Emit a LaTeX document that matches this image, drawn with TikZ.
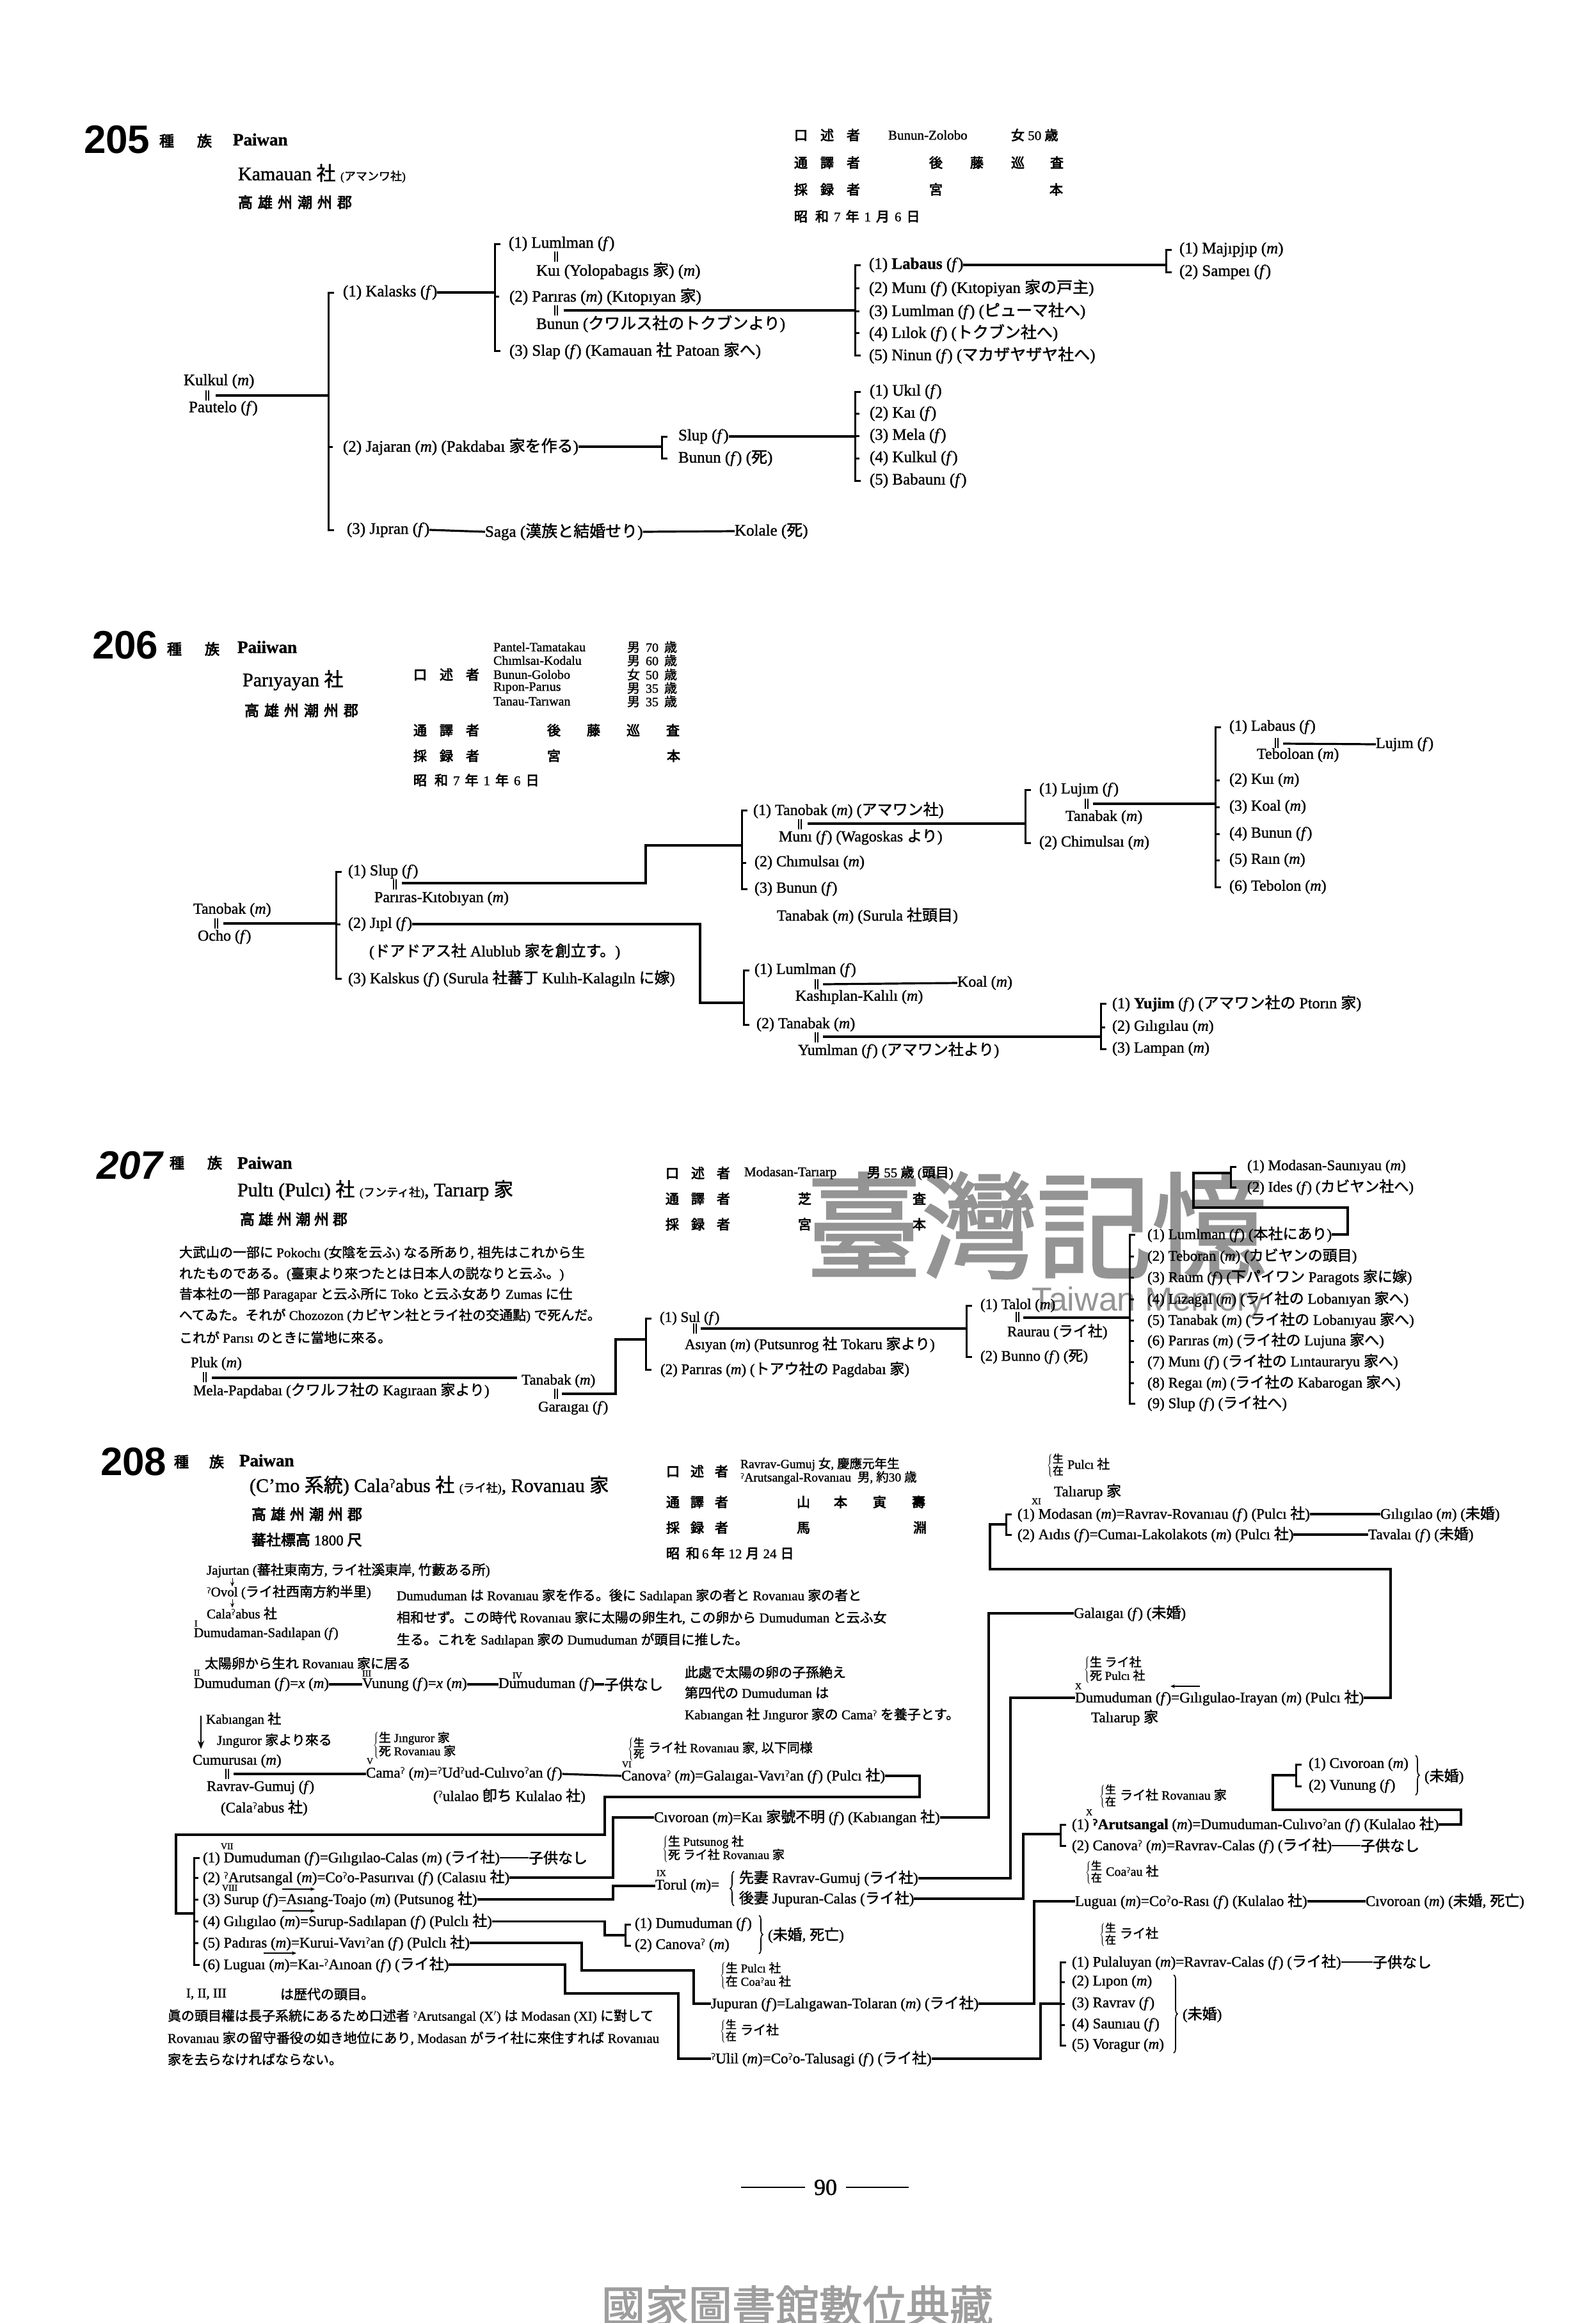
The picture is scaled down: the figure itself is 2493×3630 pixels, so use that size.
\documentclass[tikz,border=0pt]{standalone}
\usepackage{fontspec}
\usepackage{graphicx}
\usetikzlibrary{arrows.meta,decorations.pathreplacing}
\setmainfont{Liberation Serif}[FakeBold=1.3]
\newfontfamily\jpf{Noto Sans CJK JP}[FakeBold=1.8]
\newfontfamily\jpbf{Noto Sans CJK JP}[FakeBold=3.5]
\newfontfamily\dvf{DejaVu Sans}
\newfontfamily\hvf{Liberation Sans}
\XeTeXinterchartokenstate=1
\newXeTeXintercharclass\jpclass
\newcount\jpc
\def\jprange#1#2{\jpc=#1\relax\loop\XeTeXcharclass\jpc=\jpclass\relax\ifnum\jpc<#2\advance\jpc by 1\repeat}
\jprange{"3000}{"30FF}
\jprange{"4E00}{"9FFF}
\jprange{"FF00}{"FFEF}
\XeTeXinterchartoks 0 \jpclass = {\begingroup\jpf}
\XeTeXinterchartoks 4095 \jpclass = {\begingroup\jpf}
\XeTeXinterchartoks \jpclass 0 = {\endgroup}
\XeTeXinterchartoks \jpclass 4095 = {\endgroup}
\newcommand\xf{(\textit{f})}
\newcommand\xm{(\textit{m})}
\newcommand\gs{\raisebox{.45ex}{\scalebox{.62}{\dvf ʔ}}}
\newcommand\sxs[2]{$\left\{\vcenter{\hbox{\fontsize{17}{17}\selectfont\def\arraystretch{0.85}\begin{tabular}{@{}l@{}}#1\\#2\end{tabular}}}\right.$}
\newcommand\sxl[2]{$\left\{\vcenter{\hbox{\fontsize{19}{19}\selectfont\def\arraystretch{0.85}\begin{tabular}{@{}l@{}}#1\\#2\end{tabular}}}\right.$}
\newcommand\bkt[4]{\draw[bk] (#1+9,#2) -- (#1,#2) -- (#1,#3) -- (#1+9,#3); \foreach \yy in {#4}{\draw[bk] (#1,\yy) -- (#1+7,\yy);}}
\begin{document}
\begin{tikzpicture}[x=1pt,y=-1pt,
  ln/.style={line width=3.2pt},
  bk/.style={line width=3pt},
  tx/.style={anchor=west,inner sep=0pt,outer sep=0pt},
  fa/.style={tx,font=\fontsize{25}{27}\selectfont},
  fb/.style={tx,font=\fontsize{24}{26}\selectfont},
  fc/.style={tx,font=\fontsize{23}{25}\selectfont},
  fp/.style={tx,font=\fontsize{21}{24}\selectfont},
  fh/.style={tx,font=\let\jpf\jpbf\fontsize{21}{24}\selectfont},
  fn/.style={tx,font=\fontsize{20}{21}\selectfont},
  fr/.style={tx,font=\fontsize{14}{15}\selectfont},
  big/.style={tx,font=\hvf\bfseries\fontsize{62}{64}\selectfont},
  ttl/.style={tx,font=\fontsize{30}{32}\selectfont},
  pw/.style={tx,font=\bfseries\fontsize{27}{29}\selectfont},
  zk/.style={tx,font=\let\jpf\jpbf\fontsize{23}{25}\selectfont},
  ar/.style={line width=1.2pt,-{Stealth[length=7pt,width=6pt]}},
  br/.style={line width=1.6pt,decorate,decoration={brace,amplitude=6pt}},
  dbar/.pic={\draw[line width=1.3pt] (-2,-8)--(-2,8) (2,-8)--(2,8);}
]
\fill[white] (0,0) rectangle (2493,3630);
\useasboundingbox (0,0) rectangle (2493,3630);
% watermarks
\node[inner sep=0pt,text=black!42,font=\fontsize{180}{180}\selectfont] (wm1) at (1620,1915) {臺灣記憶};
\node[inner sep=0pt,text=black!42,font=\hvf\fontsize{52}{52}\selectfont] (wm2) at (1795,2035) {Taiwan Memory};
\node[inner sep=0pt,text=black!38,font=\fontsize{68}{68}\selectfont] (wm3) at (1246,3603) {國家圖書館數位典藏};

% ================= 205 =================
\node[big] (h205) at (131,218) {205};
\node[zk] (z205) at (249,220) {種\hspace{36pt}族};
\node[pw] (p205) at (364,218) {Paiwan};
\node[ttl] (k205) at (372,271) {Kamauan 社 {\fontsize{18}{20}\selectfont (アマンワ社)}};
\node[zk] (g205) at (372,316) {高\hspace{8pt}雄\hspace{8pt}州\hspace{8pt}潮\hspace{8pt}州\hspace{8pt}郡};
\node[fh] (r5a) at (1241,211) {口\hspace{20pt}述\hspace{20pt}者};
\node[fh] (r5b) at (1388,211) {Bunun-Zolobo};
\node[fh] (r5c) at (1580,211) {女 50 歳};
\node[fh] (r5d) at (1241,254) {通\hspace{20pt}譯\hspace{20pt}者};
\node[fh] (r5e) at (1452,254) {後\hspace{43pt}藤\hspace{43pt}巡\hspace{40pt}査};
\node[fh] (r5f) at (1241,296) {採\hspace{20pt}録\hspace{20pt}者};
\node[fh] (r5g) at (1452,296) {宮\hspace{167pt}本};
\node[fh] (r5h) at (1241,338) {昭\hspace{12pt}和\hspace{8pt}7\hspace{8pt}年\hspace{8pt}1\hspace{8pt}月\hspace{8pt}6\hspace{8pt}日};

\node[fa] (kulkul) at (287,596) {Kulkul \xm};
\pic at (324,618) {dbar};
\node[fa] (pautelo) at (295,638) {Pautelo \xf};
\coordinate (c5a) at (337,618);
\coordinate (b5a) at (513,618);
\draw[ln] (c5a) -- (b5a);
\bkt{513}{457}{828}{698}
\node[fa] (kalasks) at (536,457) {(1) Kalasks \xf};
\draw[ln] (kalasks.east) -- (773,457);
\bkt{773}{381}{548}{463.5}
\node[fa] (lumA) at (795,381) {(1) Lumlman \xf};
\pic at (869,401) {dbar};
\node[fa] (kui) at (838,423) {Kuı (Yolopabagıs 家) \xm};
\node[fa] (parA) at (796,463.5) {(2) Parıras \xm\ (Kıtopıyan 家)};
\pic at (869,485) {dbar};
\draw[ln] (881,485) -- (1336,485);
\node[fa] (bunA) at (838,506) {Bunun (クワルス社のトクブンより)};
\node[fa] (slap) at (796,548) {(3) Slap \xf\ (Kamauan 社 Patoan 家へ)};
\bkt{1336}{414}{555}{450,486,520}
\node[fa] (labaus) at (1358,414) {(1) \textbf{Labaus} \xf};
\draw[ln] (labaus.east) -- (1822,414);
\bkt{1822}{390}{425}{390}
\node[fa] (majip) at (1843,390) {(1) Majıpjıp \xm};
\node[fa] (sampei) at (1843,425) {(2) Sampeı \xf};
\node[fa] (muniA) at (1358,450) {(2) Munı \xf\ (Kıtopiyan 家の戸主)};
\node[fa] (lumB) at (1358,486) {(3) Lumlman \xf\ (ピューマ社へ)};
\node[fa] (lilok) at (1358,520) {(4) Lılok \xf\ (トクブン社へ)};
\node[fa] (ninun) at (1358,555) {(5) Ninun \xf\ (マカザヤザヤ社へ)};
\node[fa] (jajaran) at (536,698) {(2) Jajaran \xm\ (Pakdabaı 家を作る)};
\draw[ln] (jajaran.east) -- (1034,698);
\bkt{1034}{682}{716}{682}
\node[fa] (slupA) at (1060,682) {Slup \xf};
\draw[ln] (slupA.east) -- (1336,682);
\node[fa] (bunB) at (1060,716) {Bunun \xf\ (死)};
\bkt{1336}{612}{751}{646.5,681,716}
\node[fa] (ukil) at (1359,612) {(1) Ukıl \xf};
\node[fa] (kai) at (1359,646.5) {(2) Kaı \xf};
\node[fa] (mela) at (1359,681) {(3) Mela \xf};
\node[fa] (kulkulB) at (1359,716) {(4) Kulkul \xf};
\node[fa] (babauni) at (1359,751) {(5) Babaunı \xf};
\node[fa] (jipran) at (542,828) {(3) Jıpran \xf};
\node[fa] (saga) at (758,831) {Saga (漢族と結婚せり)};
\node[fa] (kolale) at (1148,830) {Kolale (死)};
\draw[ln] (jipran.east) -- (saga.west);
\draw[ln] (saga.east) -- (kolale.west);

% ================= 206 =================
\node[big] (h206) at (144,1008) {206};
\node[zk] (z206) at (261,1014) {種\hspace{36pt}族};
\node[pw] (p206) at (371,1011) {Paiiwan};
\node[ttl] (k206) at (379,1063) {Parıyayan 社};
\node[zk] (g206) at (382,1110) {高\hspace{8pt}雄\hspace{8pt}州\hspace{8pt}潮\hspace{8pt}州\hspace{8pt}郡};
\node[fh] (r6a) at (646,1054) {口\hspace{20pt}述\hspace{20pt}者};
\node[fn] (r6n1) at (771,1011) {Pantel-Tamatakau};
\node[fn] (r6n2) at (771,1032) {Chımlsaı-Kodalu};
\node[fn] (r6n3) at (771,1054) {Bunun-Golobo};
\node[fn] (r6n4) at (771,1075) {Rıpon-Parıus};
\node[fn] (r6n5) at (771,1096) {Tanau-Tarıwan};
\node[fn] (r6m1) at (980,1011) {男\hspace{9pt}70\hspace{9pt}歳};
\node[fn] (r6m2) at (980,1032) {男\hspace{9pt}60\hspace{9pt}歳};
\node[fn] (r6m3) at (980,1054) {女\hspace{9pt}50\hspace{9pt}歳};
\node[fn] (r6m4) at (980,1075) {男\hspace{9pt}35\hspace{9pt}歳};
\node[fn] (r6m5) at (980,1096) {男\hspace{9pt}35\hspace{9pt}歳};
\node[fh] (r6b) at (646,1141) {通\hspace{20pt}譯\hspace{20pt}者};
\node[fh] (r6c) at (855,1141) {後\hspace{41pt}藤\hspace{41pt}巡\hspace{41pt}査};
\node[fh] (r6d) at (646,1181) {採\hspace{20pt}録\hspace{20pt}者};
\node[fh] (r6e) at (855,1181) {宮\hspace{166pt}本};
\node[fh] (r6f) at (646,1219) {昭\hspace{12pt}和\hspace{8pt}7\hspace{8pt}年\hspace{8pt}1\hspace{8pt}年\hspace{8pt}6\hspace{8pt}日};

\node[fb] (tanobak) at (302,1422) {Tanobak \xm};
\pic at (338,1443) {dbar};
\node[fb] (ocho) at (309,1464) {Ocho \xf};
\draw[ln] (349,1443) -- (525,1443);
\bkt{525}{1362}{1529}{1444}
\node[fb] (slupB) at (544,1362) {(1) Slup \xf};
\pic at (617,1382) {dbar};
\node[fb] (parkit) at (585,1404) {Parıras-Kıtobıyan \xm};
\draw[ln] (628,1380) -- (1009,1380) -- (1009,1321) -- (1159,1321);
\node[fb] (jipl) at (544,1444) {(2) Jıpl \xf};
\draw[ln] (jipl.east) -- (1094,1444) -- (1094,1567) -- (1162,1567);
\node[fb] (alub) at (577,1487) {(ドアドアス社 Alublub 家を創立す。)};
\node[fb] (kalskus) at (544,1529) {(3) Kalskus \xf\ (Surula 社蕃丁 Kulıh-Kalagıln に嫁)};
\bkt{1159}{1266}{1389}{1348}
\node[fb] (tanoB) at (1177,1266) {(1) Tanobak \xm\ (アマワン社)};
\pic at (1250,1288) {dbar};
\node[fb] (muniB) at (1217,1308) {Munı \xf\ (Wagoskas より)};
\draw[ln] (1262,1287) -- (1602,1287);
\node[fb] (chimA) at (1179,1348) {(2) Chımulsaı \xm};
\node[fb] (bunC) at (1179,1389) {(3) Bunun \xf};
\node[fb] (tanaS) at (1214,1431) {Tanabak \xm\ (Surula 社頭目)};
\bkt{1602}{1234}{1317}{1234}
\node[fb] (lujimA) at (1624,1234) {(1) Lujım \xf};
\pic at (1698,1256) {dbar};
\node[fb] (tanaB) at (1665,1277) {Tanabak \xm};
\draw[ln] (1708,1256) -- (1899,1256);
\node[fb] (chimB) at (1624,1317) {(2) Chimulsaı \xm};
\bkt{1899}{1136}{1386}{1219,1261,1303,1344}
\node[fb] (labB) at (1921,1136) {(1) Labaus \xf};
\pic at (1995,1161) {dbar};
\node[fb] (lujimB) at (2150,1163) {Lujım \xf};
\draw[ln] (2005,1162) -- (lujimB.west);
\node[fb] (tebA) at (1964,1180) {Teboloan \xm};
\node[fb] (kuiB) at (1921,1219) {(2) Kuı \xm};
\node[fb] (koalA) at (1921,1261) {(3) Koal \xm};
\node[fb] (bunD) at (1921,1303) {(4) Bunun \xf};
\node[fb] (rain) at (1921,1344) {(5) Raın \xm};
\node[fb] (tebB) at (1921,1386) {(6) Tebolon \xm};
\bkt{1162}{1516}{1601}{1516}
\node[fb] (lumC) at (1179,1516) {(1) Lumlman \xf};
\pic at (1276,1538) {dbar};
\node[fb] (koalB) at (1496,1536) {Koal \xm};
\draw[ln] (1286,1538) -- (koalB.west);
\node[fb] (kash) at (1243,1558) {Kashıplan-Kalılı \xm};
\node[fb] (tanaC) at (1182,1601) {(2) Tanabak \xm};
\pic at (1276,1621) {dbar};
\draw[ln] (1286,1620) -- (1720,1620);
\node[fb] (yuml) at (1247,1641) {Yumlman \xf\ (アマワン社より)};
\bkt{1720}{1568}{1639}{1605}
\node[fb] (yujim) at (1738,1568) {(1) \textbf{Yujim} \xf\ (アマワン社の Ptorın 家)};
\node[fb] (gilA) at (1738,1605) {(2) Gılıgılau \xm};
\node[fb] (lampan) at (1738,1639) {(3) Lampan \xm};

% ================= 207 =================
\node[tx,font=\hvf\bfseries\itshape\fontsize{62}{64}\selectfont] (h207) at (151,1821) {207};
\node[zk] (z207) at (265,1817) {種\hspace{36pt}族};
\node[pw] (p207) at (371,1817) {Paiwan};
\node[ttl] (k207) at (371,1860) {Pultı (Pulcı) 社 {\fontsize{18}{20}\selectfont (フンティ社)}, Tarıarp 家};
\node[zk] (g207) at (375,1905) {高\hspace{6pt}雄\hspace{6pt}州\hspace{6pt}潮\hspace{6pt}州\hspace{6pt}郡};
\node[fp] (q1) at (280,1958) {大武山の一部に Pokochı (女陰を云ふ) なる所あり, 祖先はこれから生};
\node[fp] (q2) at (280,1991) {れたものである。(臺東より來つたとは日本人の説なりと云ふ。)};
\node[fp] (q3) at (280,2023) {昔本社の一部 Paragapar と云ふ所に Toko と云ふ女あり Zumas に仕};
\node[fp] (q4) at (280,2056) {へてゐた。それが Chozozon (カビヤン社とライ社の交通點) で死んだ。};
\node[fp] (q5) at (280,2090) {これが Parısı のときに當地に來る。};
\node[fh] (r7a) at (1040,1833) {口\hspace{19pt}述\hspace{19pt}者};
\node[fh] (r7b) at (1163,1833) {Modasan-Tarıarp};
\node[fh] (r7c) at (1355,1833) {男 55 歳 (頭目)};
\node[fh] (r7d) at (1040,1873) {通\hspace{19pt}譯\hspace{19pt}者};
\node[fh] (r7e) at (1247,1873) {芝\hspace{158pt}査};
\node[fh] (r7f) at (1040,1913) {採\hspace{19pt}録\hspace{19pt}者};
\node[fh] (r7g) at (1247,1913) {宮\hspace{158pt}本};

\node[fc] (pluk) at (298,2131) {Pluk \xm};
\pic at (320,2152) {dbar};
\node[fc] (tanab7) at (815,2158) {Tanabak \xm};
\draw[ln] (331,2153) -- (808,2153);
\node[fc] (melapap) at (302,2173) {Mela-Papdabaı (クワルフ社の Kagıraan 家より)};
\pic at (869,2178) {dbar};
\draw[ln] (878,2178) -- (962,2178) -- (962,2093) -- (1009,2093);
\node[fc] (gara) at (841,2200) {Garaıgaı \xf};
\bkt{1009}{2060}{2140}{2060}
\node[fc] (sul) at (1031,2060) {(1) Sul \xf};
\pic at (1086,2076) {dbar};
\draw[ln] (1095,2076) -- (1510,2076);
\node[fc] (asiyan) at (1070,2101) {Asıyan \xm\ (Putsunrog 社 Tokaru 家より)};
\node[fc] (par7) at (1032,2140) {(2) Parıras \xm\ (トアウ社の Pagdabaı 家)};
\bkt{1510}{2040}{2120}{2040}
\node[fc] (talol) at (1532,2040) {(1) Talol \xm};
\pic at (1590,2058) {dbar};
\draw[ln] (1599,2059) -- (1765,2059);
\node[fc] (raurau) at (1574,2081) {Raurau (ライ社)};
\node[fc] (bunno) at (1532,2120) {(2) Bunno \xf\ (死)};
\bkt{1765}{1929}{2193}{1963,1996,2030,2063,2095,2128,2161}
\node[fc] (s71) at (1793,1929) {(1) Lumlman \xf\ (本社にあり)};
\node[fc] (s72) at (1793,1963) {(2) Teboran \xm\ (カビヤンの頭目)};
\node[fc] (s73) at (1793,1996) {(3) Raum \xf\ (下パイワン Paragots 家に嫁)};
\node[fc] (s74) at (1793,2030) {(4) Lızagal \xm\ (ライ社の Lobanıyan 家へ)};
\node[fc] (s75) at (1793,2063) {(5) Tanabak \xm\ (ライ社の Lobanıyau 家へ)};
\node[fc] (s76) at (1793,2095) {(6) Parıras \xm\ (ライ社の Lujuna 家へ)};
\node[fc] (s77) at (1793,2128) {(7) Munı \xf\ (ライ社の Lıntauraryu 家へ)};
\node[fc] (s78) at (1793,2161) {(8) Regaı \xm\ (ライ社の Kabarogan 家へ)};
\node[fc] (s79) at (1793,2193) {(9) Slup \xf\ (ライ社へ)};
\draw[ln] (s71.east) -- (2106,1929) -- (2106,1887) -- (1865,1887) -- (1865,1833) -- (1923,1833);
\bkt{1923}{1823}{1855}{1823}
\node[fc] (modsau) at (1949,1823) {(1) Modasan-Saunıyau \xm};
\node[fc] (ides) at (1949,1855) {(2) Ides \xf\ (カビヤン社へ)};

% ================= 208 =================
\node[big] (h208) at (157,2284) {208};
\node[zk] (z208) at (272,2284) {種\hspace{32pt}族};
\node[pw] (p208) at (374,2282) {Paiwan};
\node[ttl] (k208) at (390,2322) {(C'mo 系統) Cala\gs abus 社 {\fontsize{18}{20}\selectfont (ライ社)}, Rovanıau 家};
\node[zk] (g208) at (393,2366) {高\hspace{7pt}雄\hspace{7pt}州\hspace{7pt}潮\hspace{7pt}州\hspace{7pt}郡};
\node[zk] (e208) at (393,2406) {蕃社標高 1800 尺};
\node[fh] (r8a) at (1041,2299) {口\hspace{17pt}述\hspace{17pt}者};
\node[tx,font=\fontsize{19.5}{20}\selectfont] (r8b) at (1157,2288) {Ravrav-Gumuj 女, 慶應元年生};
\node[tx,font=\fontsize{19.5}{20}\selectfont] (r8c) at (1157,2309) {\gs Arutsangal-Rovanıau\hspace{10pt}男, 約30 歳};
\node[fh] (r8d) at (1041,2347) {通\hspace{17pt}譯\hspace{17pt}者};
\node[fh] (r8e) at (1245,2347) {山\hspace{37pt}本\hspace{40pt}寅\hspace{40pt}壽};
\node[fh] (r8f) at (1041,2387) {採\hspace{17pt}録\hspace{17pt}者};
\node[fh] (r8g) at (1245,2387) {馬\hspace{161pt}淵};
\node[fh] (r8h) at (1041,2427) {昭\hspace{10pt}和\hspace{4pt}6\hspace{4pt}年\hspace{6pt}12\hspace{6pt}月\hspace{6pt}24\hspace{6pt}日};

\node[fp] (jaj8) at (323,2454) {Jajurtan (蕃社東南方, ライ社溪東岸, 竹藪ある所)};
\node[fp] (ovol) at (323,2488) {\gs Ovol (ライ社西南方約半里)};
\node[fp] (cala) at (323,2521) {Cala\gs abus 社};
\draw[ar,line width=1pt] (363,2466) -- (363,2479);
\draw[ar,line width=1pt] (363,2499) -- (363,2512);
\node[fr] (rI) at (304,2537) {I};
\node[fp] (dsad) at (303,2553) {Dumudaman-Sadılapan \xf};
\node[fp] (taiyo) at (320,2599) {太陽卵から生れ Rovanıau 家に居る};
\node[fr] (rII) at (303,2614) {II};
\node[fr] (rIII) at (566,2615) {III};
\node[fr] (rIV) at (801,2618) {IV};
\node[fc] (dd1) at (303,2632) {Dumuduman \xf=\textit{x} \xm};
\node[fc] (vun) at (566,2632) {Vunung \xf=\textit{x} \xm};
\node[fc] (dd2) at (779,2632) {Dumuduman \xf};
\node[fc] (kd1) at (944,2632) {子供なし};
\draw[ln] (dd1.east) -- (vun.west);
\draw[ln] (vun.east) -- (dd2.west);
\draw[ln] (dd2.east) -- (kd1.west);
\node[fp] (pa1) at (620,2494) {Dumuduman は Rovanıau 家を作る。後に Sadılapan 家の者と Rovanıau 家の者と};
\node[fp] (pa2) at (620,2528) {相和せず。この時代 Rovanıau 家に太陽の卵生れ, この卵から Dumuduman と云ふ女};
\node[fp] (pa3) at (620,2563) {生る。これを Sadılapan 家の Dumuduman が頭目に推した。};
\node[fp] (pb1) at (1070,2613) {此處で太陽の卵の子孫絶え};
\node[fp] (pb2) at (1070,2645) {第四代の Dumuduman は};
\node[fp] (pb3) at (1070,2680) {Kabıangan 社 Jınguror 家の Cama\gs\ を養子とす。};

\draw[line width=2.2pt,-{Stealth[length=13pt,width=10pt]}] (314,2681) -- (314,2733);
\node[fp] (kab) at (322,2687) {Kabıangan 社};
\node[fp] (jing) at (339,2720) {Jınguror 家より來る};
\node[tx] (sx1) at (583,2727) {\sxl{生 Jınguror 家}{死 Rovanıau 家}};
\node[fr] (rV) at (573,2752) {V};
\node[fc] (cumu) at (301,2752) {Cumurusaı \xm};
\pic at (355,2772) {dbar};
\node[fc] (cama) at (572,2772) {Cama\gs\ \xm=\gs Ud\gs ud-Culıvo\gs an \xf};
\draw[ln] (365,2772) -- (cama.west);
\node[fc] (ravgum) at (323,2793) {Ravrav-Gumuj \xf};
\node[fc] (ulal) at (677,2807) {(\gs ulalao 卽ち Kulalao 社)};
\node[fc] (calab) at (345,2825) {(Cala\gs abus 社)};
\node[tx,font=\fontsize{20}{22}\selectfont] (sx2) at (981,2733) {\sxs{生}{死} ライ社 Rovanıau 家, 以下同様};
\node[fr] (rVI) at (972,2757) {VI};
\node[fc] (can6) at (971,2775) {Canova\gs\ \xm=Galaıgaı-Vavı\gs an \xf\ (Pulcı 社)};
\draw[ln] (cama.east) -- (can6.west);
\draw[ln] (can6.east) -- (1437,2775) -- (1437,2808) -- (945,2808) -- (945,2867) -- (275,2867) -- (275,2990) -- (303,2990);

\bkt{303}{2903}{3070}{2934,2968,3002.5,3036}
\node[fr] (rVII) at (345,2885) {VII};
\node[fc] (g1) at (317,2903) {(1) Dumuduman \xf=Gılıgılao-Calas \xm\ (ライ社)};
\node[fc] (g1k) at (826,2903) {子供なし};
\draw[line width=2pt] (g1.east) -- (g1k.west);
\node[fc] (g2) at (317,2934) {(2) \gs Arutsangal \xm=Co\gs o-Pasurıvaı \xf\ (Calasıu 社)};
\node[fr] (rVIII) at (347,2950) {VIII};
\draw[ar] (441,2952) -- (492,2952);
\node[fc] (g3) at (317,2968) {(3) Surup \xf=Asıang-Toajo \xm\ (Putsunog 社)};
\draw[ar] (441,2986) -- (492,2986);
\node[fc] (g4) at (317,3002.5) {(4) Gılıgılao \xm=Surup-Sadılapan \xf\ (Pulclı 社)};
\node[fc] (g5) at (317,3036) {(5) Padıras \xm=Kurui-Vavı\gs an \xf\ (Pulclı 社)};
\draw[ar] (412,3052) -- (463,3052);
\node[fc] (g6) at (317,3070) {(6) Luguaı \xm=Kaı-\gs Aınoan \xf\ (ライ社)};

\node[fc] (civ) at (1022,2840) {Cıvoroan \xm=Kaı 家號不明 \xf\ (Kabıangan 社)};
\draw[ln] (g2.east) -- (958,2934) -- (958,2840) -- (civ.west);
\node[tx,font=\fontsize{20}{22}\selectfont] (sx3) at (1035,2889) {\sxl{生 Putsunog 社}{死 ライ社 Rovanıau 家}};
\node[fr] (rIX) at (1026,2927) {IX};
\node[fc] (torul) at (1024,2947) {Torul \xm=};
\draw[ln] (g3.east) -- (958,2968) -- (958,2947) -- (torul.west);
\draw[br] (1147,2978) -- (1147,2924);
\node[fc] (sen) at (1155,2935) {先妻 Ravrav-Gumuj (ライ社)};
\node[fc] (gos) at (1155,2967) {後妻 Jupuran-Calas (ライ社)};
\bkt{977}{3007}{3040}{3007}
\node[fc] (d1) at (992,3007) {(1) Dumuduman \xf};
\node[fc] (d2) at (992,3040) {(2) Canova\gs\ \xm};
\draw[br] (1186,2993) -- (1186,3053);
\node[fc] (d3) at (1200,3024) {(未婚, 死亡)};
\draw[ln] (g4.east) -- (945,3002.5) -- (945,3024) -- (977,3024);
\node[tx,font=\fontsize{20}{22}\selectfont] (sx4) at (1125,3087) {\sxl{生 Pulcı 社}{在 Coa\gs au 社}};
\node[fc] (jup) at (1111,3131) {Jupuran \xf=Lalıgawan-Tolaran \xm\ (ライ社)};
\draw[ln] (g5.east) -- (909,3036) -- (909,3079) -- (1084,3079) -- (1084,3131) -- (jup.west);
\node[tx,font=\fontsize{20}{22}\selectfont] (sx5) at (1125,3174) {\sxs{生}{在} ライ社};
\node[fc] (ulil) at (1111,3217) {\gs Ulil \xm=Co\gs o-Talusagi \xf\ (ライ社)};
\draw[ln] (g6.east) -- (883,3070) -- (883,3115) -- (1060,3115) -- (1060,3217) -- (ulil.west);

\node[fp] (f1) at (291,3116) {I, II, III};
\node[fp] (f1b) at (438,3116) {は歴代の頭目。};
\node[fp] (f2) at (262,3151) {眞の頭目權は長子系統にあるため口述者 \gs Arutsangal (X$'$) は Modasan (XI) に對して};
\node[fp] (f3) at (262,3185) {Rovanıau 家の留守番役の如き地位にあり, Modasan がライ社に來住すれば Rovanıau};
\node[fp] (f4) at (262,3218) {家を去らなければならない。};

% right side of 208
\node[tx,font=\fontsize{20}{22}\selectfont] (sx6) at (1636,2290) {\sxs{生}{在} Pulcı 社};
\node[fc] (tal1) at (1647,2331) {Talıarup 家};
\node[fr] (rXI) at (1612,2346) {XI};
\bkt{1572}{2366}{2398}{2366}
\node[fc] (mod) at (1590,2366) {(1) Modasan \xm=Ravrav-Rovanıau \xf\ (Pulcı 社)};
\node[fc] (gil2) at (2157,2366) {Gılıgılao \xm\ (未婚)};
\draw[ln] (mod.east) -- (gil2.west);
\node[fc] (aid) at (1590,2398) {(2) Aıdıs \xf=Cumaı-Lakolakots \xm\ (Pulcı 社)};
\node[fc] (tav) at (2138,2398) {Tavalaı \xf\ (未婚)};
\draw[ln] (aid.east) -- (tav.west);
\node[fc] (gal) at (1678,2521) {Galaıgaı \xf\ (未婚)};
\draw[ln] (civ.east) -- (1545,2840) -- (1545,2521) -- (gal.west);
\node[tx,font=\fontsize{20}{22}\selectfont] (sx7) at (1694,2609) {\sxl{生 ライ社}{死 Pulcı 社}};
\node[fr] (rX1) at (1680,2635) {X};
\draw[ar] (1875,2635) -- (1829,2635);
\node[fc] (dx) at (1680,2653) {Dumuduman \xf=Gılıgulao-Irayan \xm\ (Pulcı 社)};
\node[fc] (tal2) at (1705,2684) {Talıarup 家};
\draw[ln] (sen.east) -- (1579,2935) -- (1579,2653) -- (dx.west);
\draw[ln] (dx.east) -- (2173,2653) -- (2173,2452) -- (1547,2452) -- (1547,2382) -- (1572,2382);

\node[tx,font=\fontsize{20}{22}\selectfont] (sx8) at (1718,2807) {\sxs{生}{在} ライ社 Rovanıau 家};
\node[fr] (rX2) at (1697,2832) {X};
\bkt{1657}{2851}{2884}{2851}
\node[fc] (arx) at (1675,2851) {(1) \textbf{\gs Arutsangal} \xm=Dumuduman-Culıvo\gs an \xf\ (Kulalao 社)};
\bkt{2025}{2757}{2791}{2757}
\node[fc] (civ2) at (2045,2757) {(1) Cıvoroan \xm};
\node[fc] (vun2) at (2045,2791) {(2) Vunung \xf};
\draw[br] (2212,2743) -- (2212,2805);
\node[fc] (mk1) at (2226,2776) {(未婚)};
\draw[ln] (arx.east) -- (2283,2851) -- (2283,2828) -- (1989,2828) -- (1989,2774) -- (2025,2774);
\node[fc] (canx) at (1675,2884) {(2) Canova\gs\ \xm=Ravrav-Calas \xf\ (ライ社)};
\node[fc] (canxk) at (2126,2884) {子供なし};
\draw[line width=2pt] (canx.east) -- (canxk.west);
\draw[ln] (gos.east) -- (1599,2967) -- (1599,2866) -- (1657,2866);

\node[tx,font=\fontsize{20}{22}\selectfont] (sx9) at (1696,2926) {\sxs{生}{在} Coa\gs au 社};
\node[fc] (lug) at (1680,2971) {Luguaı \xm=Co\gs o-Rası \xf\ (Kulalao 社)};
\node[fc] (civ3) at (2134,2971) {Cıvoroan \xm\ (未婚, 死亡)};
\draw[ln] (lug.east) -- (civ3.west);
\draw[ln] (jup.east) -- (1616,3131) -- (1616,2971) -- (lug.west);
\node[tx,font=\fontsize{20}{22}\selectfont] (sx10) at (1718,3023) {\sxs{生}{在} ライ社};
\bkt{1657}{3066}{3196}{3097,3131,3164}
\node[fc] (pul) at (1675,3066) {(1) Pulaluyan \xm=Ravrav-Calas \xf\ (ライ社)};
\node[fc] (pulk) at (2145,3066) {子供なし};
\draw[line width=2pt] (pul.east) -- (pulk.west);
\node[fc] (lip) at (1675,3097) {(2) Lıpon \xm};
\node[fc] (rav) at (1675,3131) {(3) Ravrav \xf};
\node[fc] (sau) at (1675,3164) {(4) Saunıau \xf};
\node[fc] (vor) at (1675,3196) {(5) Voragur \xm};
\draw[br] (1834,3086) -- (1834,3208);
\node[fc] (mk2) at (1848,3148) {(未婚)};
\draw[ln] (ulil.east) -- (1626,3217) -- (1626,3131) -- (1657,3131);

% page number
\node[inner sep=0pt,font=\fontsize{36}{38}\selectfont] (pg) at (1290,3418) {90};
\coordinate (pgl) at (1158,3418);
\coordinate (pgr) at (1420,3418);
\draw[line width=2.4pt] (pgl) -- ([xshift=-14pt]pg.west);
\draw[line width=2.4pt] ([xshift=14pt]pg.east) -- (pgr);
\end{tikzpicture}
\end{document}
